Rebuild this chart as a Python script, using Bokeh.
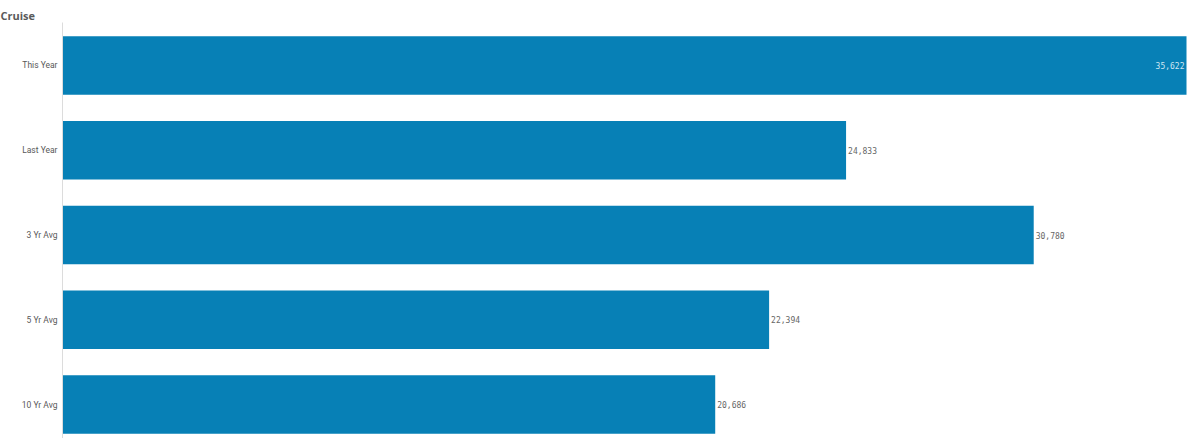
from bokeh.plotting import figure
from bokeh.models import ColumnDataSource, Range1d, LabelSet, FixedTicker
from bokeh.core.properties import value
from bokeh.embed import file_html
from bokeh.resources import INLINE

title_text = "Cruise"
categories = ["This Year", "Last Year", "3 Yr Avg", "5 Yr Avg", "10 Yr Avg"]
values = [35622, 24833, 30780, 22394, 20686]
labels = ["35,622", "24,833", "30,780", "22,394", "20,686"]

pos = list(range(len(categories)))
max_v = max(values)
inside = [v == max_v for v in values]

src = ColumnDataSource(dict(pos=pos, val=values))
src_out = ColumnDataSource(dict(
    pos=[q for q, i in zip(pos, inside) if not i],
    val=[v for v, i in zip(values, inside) if not i],
    lab=[l for l, i in zip(labels, inside) if not i],
))
src_in = ColumnDataSource(dict(
    pos=[q for q, i in zip(pos, inside) if i],
    val=[v for v, i in zip(values, inside) if i],
    lab=[l for l, i in zip(labels, inside) if i],
))

p = figure(width=1192, height=438,
           y_range=Range1d(4.40, -0.507),
           x_range=Range1d(0, max_v * 1126 / 1124),
           output_backend="svg", toolbar_location=None,
           title=title_text, min_border_left=62, min_border_right=4,
           min_border_top=22, min_border_bottom=0)
p.title.text_font = "Open Sans"
p.title.text_font_size = "11px"
p.title.text_font_style = "bold"
p.title.text_color = "#5a5a5a"
p.title.align = "left"
p.title.offset = -62
p.title.standoff = 0
p.outline_line_color = None
p.grid.visible = False
p.xaxis.visible = False

p.hbar(y="pos", right="val", height=0.69, source=src, color="#0780b6", line_color=None)

p.yaxis.ticker = FixedTicker(ticks=pos)
p.yaxis.major_label_overrides = {q: c for q, c in zip(pos, categories)}
p.yaxis.axis_line_color = "#dcdcdc"
p.yaxis.major_tick_line_color = None
p.yaxis.minor_tick_line_color = None
p.yaxis.major_tick_out = 0
p.yaxis.major_tick_in = 0
p.yaxis.major_label_text_font = "Roboto"
p.yaxis.major_label_text_font_size = "8.5px"
p.yaxis.major_label_text_color = "#595959"
p.yaxis.major_label_standoff = 5

p.add_layout(LabelSet(x="val", y="pos", text="lab", source=src_out, x_offset=2,
                      text_font_size=value("8px"), text_color="#666666",
                      text_font=value("DejaVu Sans Mono"),
                      text_baseline="middle", text_align="left"))
p.add_layout(LabelSet(x="val", y="pos", text="lab", source=src_in, x_offset=-2,
                      text_font_size=value("8px"), text_color="#cfe6f2",
                      text_font=value("DejaVu Sans Mono"),
                      text_baseline="middle", text_align="right"))

open("out.html", "w").write(file_html(p, INLINE))
